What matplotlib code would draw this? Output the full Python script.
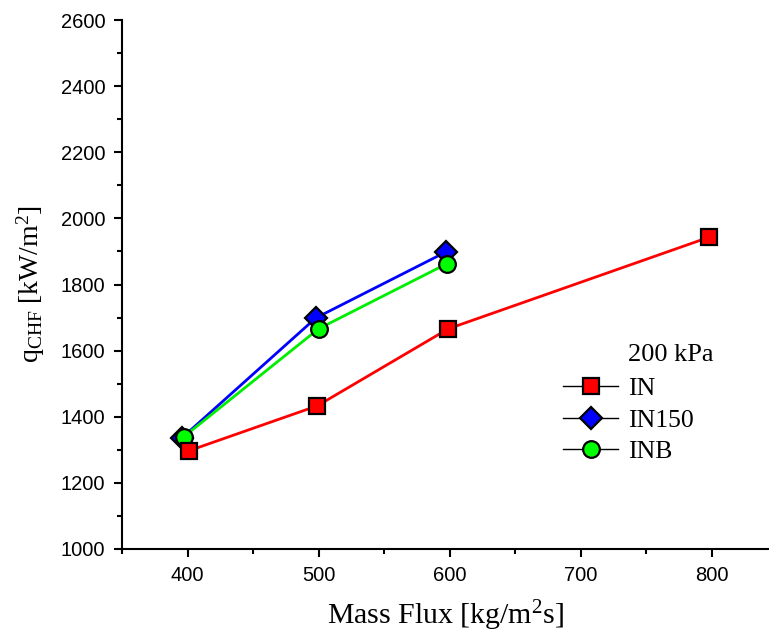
import matplotlib
matplotlib.use("Agg")
import matplotlib.pyplot as plt
from matplotlib.lines import Line2D
from matplotlib.ticker import MultipleLocator

plt.rcParams['mathtext.fontset'] = 'custom'
plt.rcParams['mathtext.rm'] = 'Liberation Serif'
plt.rcParams['mathtext.it'] = 'Liberation Serif:italic'

# Data
in_x = [401, 499, 599, 798]
in_y = [1297, 1433, 1666, 1943]
in150_x = [396, 498, 597]
in150_y = [1337, 1699, 1898]
inb_x = [397, 500, 598]
inb_y = [1339, 1666, 1863]

series_labels = ['IN', 'IN150', 'INB']
legend_title = '200 kPa'

fig = plt.figure(figsize=(7.69, 6.36), dpi=100)
ax = fig.add_axes([122/769, 1-549/636, (768-122)/769, (549-20)/636])

ax.plot(in150_x, in150_y, color='#0000FF', lw=2, marker='D', ms=11.5,
        mfc='#0000FF', mec='black', mew=1.6, zorder=3)
ax.plot(inb_x, inb_y, color='#00EE00', lw=2, marker='o', ms=12,
        mfc='#00FF00', mec='black', mew=1.6, zorder=4)
ax.plot(in_x, in_y, color='#FF0000', lw=2, marker='s', ms=11,
        mfc='#FF0000', mec='black', mew=1.6, zorder=5)

ax.set_xlim(350, 843)
ax.set_ylim(1000, 2600)
ax.xaxis.set_major_locator(MultipleLocator(100))
ax.xaxis.set_minor_locator(MultipleLocator(50))
ax.yaxis.set_major_locator(MultipleLocator(200))
ax.yaxis.set_minor_locator(MultipleLocator(100))

for s in ['top', 'right']:
    ax.spines[s].set_visible(False)
for s in ['left', 'bottom']:
    ax.spines[s].set_linewidth(1.5)

ax.tick_params(which='major', direction='out', length=6, width=1.5,
               labelsize=14.5, pad=6)
ax.tick_params(which='minor', direction='out', length=3.5, width=1.5)
for lbl in ax.get_xticklabels() + ax.get_yticklabels():
    lbl.set_fontfamily('Liberation Sans')

ax.set_xlabel(r'Mass Flux [kg/m$^2$s]', fontsize=21.5, family='Liberation Serif',
              labelpad=10)
ax.set_ylabel(r'q$_{\mathrm{CHF}}$ [kW/m$^2$]', fontsize=20, family='Liberation Serif',
              labelpad=10)

handles = [
    Line2D([], [], color='black', lw=1, marker='s', ms=11, mfc='#FF0000', mec='black', mew=1.6),
    Line2D([], [], color='black', lw=1, marker='D', ms=11.5, mfc='#0000FF', mec='black', mew=1.6),
    Line2D([], [], color='black', lw=1, marker='o', ms=12, mfc='#00FF00', mec='black', mew=1.6),
]
leg = ax.legend(handles, series_labels, loc='upper left',
                bbox_to_anchor=(563/769, 1-377/636), bbox_transform=fig.transFigure,
                frameon=False, prop={'family': 'Liberation Serif', 'size': 18.5},
                handlelength=2.15, handletextpad=0.4, labelspacing=0.34,
                borderaxespad=0, borderpad=0)
fig.text(628/769, 1-355/636, legend_title, family='Liberation Serif', fontsize=19,
         ha='left', va='center')

fig.savefig('out.png', dpi=100)
